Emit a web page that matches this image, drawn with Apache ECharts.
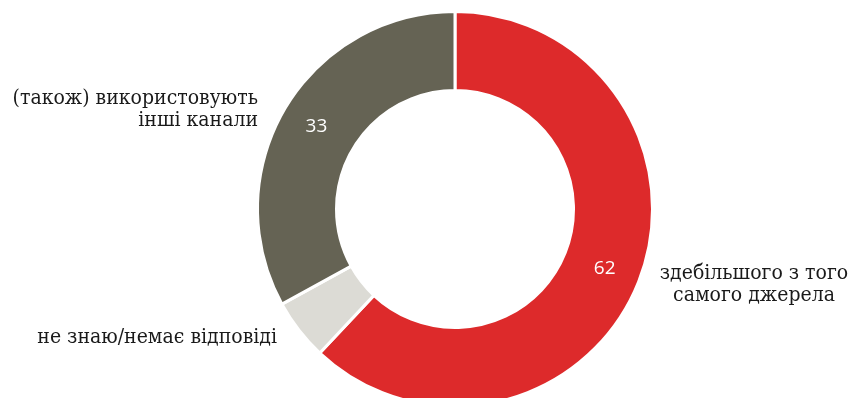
<!DOCTYPE html>
<html>
<head>
<meta charset="utf-8">
<style>
  html, body { margin: 0; padding: 0; background: #ffffff; }
  #chart { width: 853px; height: 398px; }
</style>
<script src="https://cdn.jsdelivr.net/npm/echarts@6/dist/echarts.min.js"></script>
</head>
<body>
<div id="chart"></div>
<script>
// Shares of respondents, percent
const categories = [
  'здебільшого з того\nсамого джерела',
  'не знаю/немає відповіді',
  '(також) використовують\nінші канали'
];
const values = [62, 5, 33];
const showValue = [true, false, true];
const colors = ['#dd2a2b', '#dcdbd5', '#656354'];

// Placement of the category captions around the ring
const captionPlace = [
  { x: 754, y: 285, align: 'center' },
  { x: 277, y: 338, align: 'right' },
  { x: 258, y: 110, align: 'right' }
];

const center = [455, 209];

const ringData = categories.map((name, i) => ({
  name: name,
  value: values[i],
  itemStyle: { color: colors[i] },
  label: { show: showValue[i] }
}));

const captionData = categories.map((name, i) => ({
  name: name,
  value: values[i]
}));

const chart = echarts.init(document.getElementById('chart'), null, { renderer: 'canvas' });

chart.setOption({
  animation: false,
  backgroundColor: '#ffffff',
  series: [
    {
      type: 'pie',
      center: center,
      radius: [118.5, 197.5],
      startAngle: 90,
      clockwise: true,
      avoidLabelOverlap: false,
      silent: true,
      itemStyle: { borderColor: '#ffffff', borderWidth: 3 },
      label: {
        show: true,
        position: 'inside',
        formatter: '{c}',
        color: '#ffffff',
        fontFamily: 'Open Sans',
        fontWeight: 'normal',
        fontSize: 19
      },
      labelLine: { show: false },
      data: ringData
    },
    {
      type: 'pie',
      center: center,
      radius: [118.5, 197.5],
      startAngle: 90,
      clockwise: true,
      avoidLabelOverlap: false,
      silent: true,
      itemStyle: { color: 'rgba(0,0,0,0)', borderWidth: 0 },
      label: {
        show: true,
        position: 'outside',
        formatter: '{b}',
        color: '#1a1a1a',
        fontFamily: '"DejaVu Serif Condensed", "DejaVu Serif", serif',
        fontSize: 21,
        lineHeight: 22
      },
      labelLine: { show: false },
      labelLayout: function (params) {
        const p = captionPlace[params.dataIndex];
        return { x: p.x, y: p.y, align: p.align, verticalAlign: 'middle' };
      },
      data: captionData
    }
  ]
});
</script>
</body>
</html>
